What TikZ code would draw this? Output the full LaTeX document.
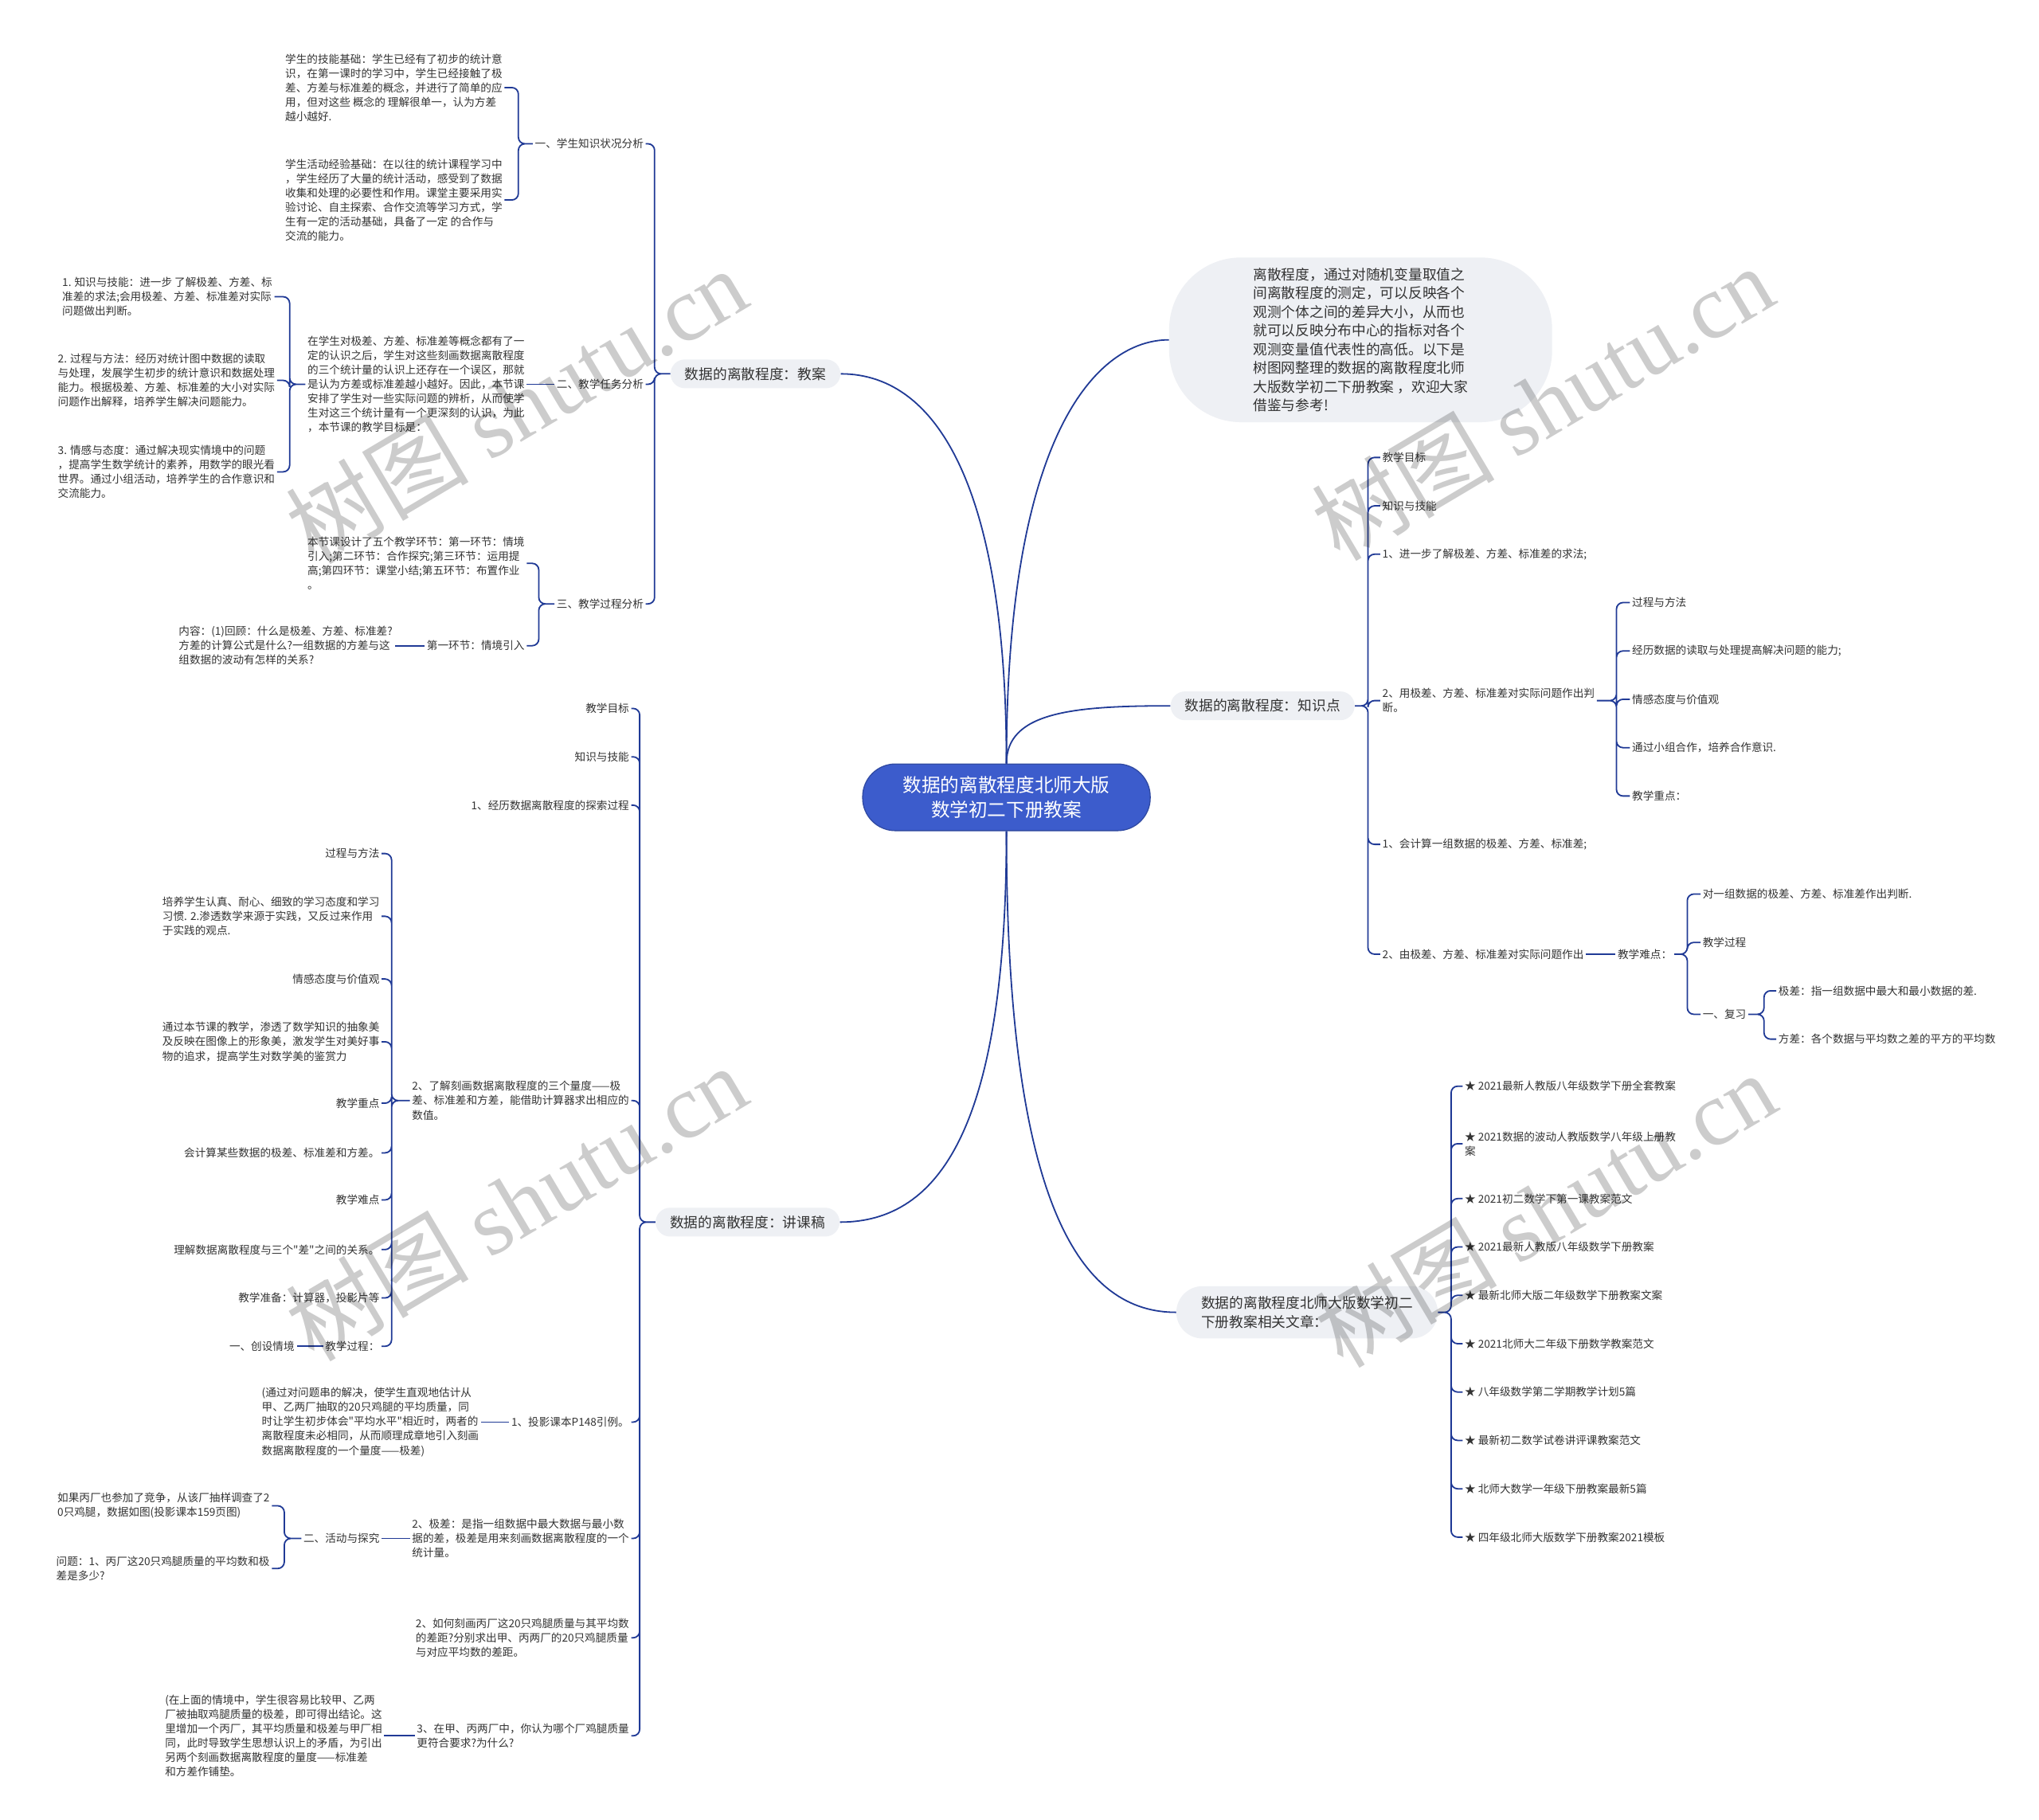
\documentclass[tikz,border=0pt]{standalone}
\usepackage{fontspec}
\setmainfont{Noto Sans CJK SC}
\newfontfamily\wmlatin{Liberation Serif}
\usetikzlibrary{positioning}

\definecolor{linkblue}{RGB}{32,58,150}
\definecolor{rootblue}{RGB}{60,92,204}
\definecolor{topicgray}{RGB}{238,240,244}
\definecolor{ink}{RGB}{51,51,51}

\begin{document}
\begin{tikzpicture}[x=1pt, y=-1pt,
		rootnode/.style={rectangle, rounded corners=25pt, fill=rootblue, draw=rootblue!80!black, line width=0.8pt,
			text=white, align=center, minimum width=220pt, minimum height=51pt, font=\fontsize{14.4}{19}\selectfont},
		topic/.style={rectangle, rounded corners=11pt, fill=topicgray, text=ink, minimum height=22pt,
			inner xsep=11pt, font=\fontsize{10.8}{14.3}\selectfont},
		bubble/.style={topic, rounded corners=55pt, minimum width=293pt, minimum height=126pt, align=left},
		leaf/.style={inner sep=1.5pt, text=ink, align=left, font=\fontsize{8.3}{11}\selectfont},
		lleaf/.style={leaf, anchor=east},
		rleaf/.style={leaf, anchor=west},
		link/.style={draw=linkblue, line width=1.1pt, rounded corners=5pt},
		wm/.style={text=black, text opacity=0.2, rotate=30.7, font=\fontsize{70}{70}\selectfont}
]
\useasboundingbox (0,0) rectangle (1560,1392.4);
\fill[white] (0,0) rectangle (1560,1392.4);

\node [rootnode] (root) at (770,610) {数据的离散程度北师大版\\数学初二下册教案};
\node [bubble] (E) at (1041,260) {离散程度，通过对随机变量取值之\\间离散程度的测定，可以反映各个\\观测个体之间的差异大小，从而也\\就可以反映分布中心的指标对各个\\观测变量值代表性的高低。以下是\\树图网整理的数据的离散程度北师\\大版数学初二下册教案 ，欢迎大家\\借鉴与参考!};
\node [topic] (A) at (578,286) {数据的离散程度：教案};
\node [topic] (B) at (572,935) {数据的离散程度：讲课稿};
\node [topic] (C) at (966,540) {数据的离散程度：知识点};
\node [topic, align=left, inner xsep=19pt, rounded corners=20pt, minimum height=40pt] (D) at (1000,1004) {数据的离散程度北师大版数学初二\\下册教案相关文章：};

\draw [link] (root.north) .. controls (770,380) and (720,286) .. (A.east);
\draw [link] (root.north) .. controls (770,330) and (840,260) .. (E.west);
\draw [link] (root.north) .. controls (770,545) and (820,540) .. (C.west);
\draw [link] (root.south) .. controls (770,860) and (720,935) .. (B.east);
\draw [link] (root.south) .. controls (770,930) and (830,1004) .. (D.west);

% 教案
\node [lleaf] (A1) at (494,110) {一、学生知识状况分析};
\node [lleaf] (A2) at (494,294) {二、教学任务分析};
\node [lleaf] (A3) at (494,462) {三、教学过程分析};
\node [lleaf] (A1a) at (386,67) {学生的技能基础：学生已经有了初步的统计意\\识，在第一课时的学习中，学生已经接触了极\\差、方差与标准差的概念，并进行了简单的应\\用，但对这些 概念的 理解很单一，认为方差\\越小越好.};
\node [lleaf] (A1b) at (386,153) {学生活动经验基础：在以往的统计课程学习中\\，学生经历了大量的统计活动，感受到了数据\\收集和处理的必要性和作用。课堂主要采用实\\验讨论、自主探索、合作交流等学习方式，学\\生有一定的活动基础，具备了一定 的合作与\\交流的能力。};
\node [lleaf] (A2a) at (403,294) {在学生对极差、方差、标准差等概念都有了一\\定的认识之后，学生对这些刻画数据离散程度\\的三个统计量的认识上还存在一个误区，那就\\是认为方差或标准差越小越好。因此，本节课\\安排了学生对一些实际问题的辨析，从而使学\\生对这三个统计量有一个更深刻的认识，为此\\，本节课的教学目标是：};
\node [lleaf] (A2a1) at (210,227) {1. 知识与技能：进一步 了解极差、方差、标\\准差的求法;会用极差、方差、标准差对实际\\问题做出判断。};
\node [lleaf] (A2a2) at (212,291) {2. 过程与方法：经历对统计图中数据的读取\\与处理，发展学生初步的统计意识和数据处理\\能力。根据极差、方差、标准差的大小对实际\\问题作出解释，培养学生解决问题能力。};
\node [lleaf] (A2a3) at (212,361) {3. 情感与态度：通过解决现实情境中的问题\\，提高学生数学统计的素养，用数学的眼光看\\世界。通过小组活动，培养学生的合作意识和\\交流能力。};
\node [lleaf] (A3a) at (403,431) {本节课设计了五个教学环节：第一环节：情境\\引入;第二环节：合作探究;第三环节：运用提\\高;第四环节：课堂小结;第五环节：布置作业\\。};
\node [lleaf] (A3b) at (403,494) {第一环节：情境引入};
\node [lleaf] (A3b1) at (302,494) {内容：(1)回顾：什么是极差、方差、标准差?\\方差的计算公式是什么?一组数据的方差与这\\组数据的波动有怎样的关系?};

\draw [link] (A.west) -- ++(-12,0) |- (A1.east) (A.west) -- ++(-12,0) |- (A2.east)
	(A.west) -- ++(-12,0) |- (A3.east);
\draw [link] (A1.west) -- ++(-11,0) |- (A1a.east) (A1.west) -- ++(-11,0) |- (A1b.east);
\draw [link] (A2.west) -- (A2a.east);
\draw [link] (A2a.west) -- ++(-12,0) |- (A2a1.east) (A2a.west) -- ++(-12,0) |- (A2a2.east)
	(A2a.west) -- ++(-12,0) |- (A2a3.east);
\draw [link] (A3.west) -- ++(-12,0) |- (A3a.east) (A3.west) -- ++(-12,0) |- (A3b.east);
\draw [link] (A3b.west) -- (A3b1.east);

% 讲课稿
\node [lleaf] (B1) at (483,542) {教学目标};
\node [lleaf] (B2) at (483,579) {知识与技能};
\node [lleaf] (B3) at (483,616) {1、经历数据离散程度的探索过程};
\node [lleaf] (B4) at (483,842) {2、了解刻画数据离散程度的三个量度——极\\差、标准差和方差，能借助计算器求出相应的\\数值。};
\node [lleaf] (B5) at (483,1088) {1、投影课本P148引例。};
\node [lleaf] (B6) at (483,1177) {2、极差：是指一组数据中最大数据与最小数\\据的差，极差是用来刻画数据离散程度的一个\\统计量。};
\node [lleaf] (B7) at (483,1253) {2、如何刻画丙厂这20只鸡腿质量与其平均数\\的差距?分别求出甲、丙两厂的20只鸡腿质量\\与对应平均数的差距。};
\node [lleaf] (B8) at (483,1328) {3、在甲、丙两厂中，你认为哪个厂鸡腿质量\\更符合要求?为什么?};
\node [lleaf] (B4a) at (292,653) {过程与方法};
\node [lleaf] (B4b) at (292,701) {培养学生认真、耐心、细致的学习态度和学习\\习惯. 2.渗透数学来源于实践，又反过来作用\\于实践的观点.};
\node [lleaf] (B4c) at (292,749) {情感态度与价值观};
\node [lleaf] (B4d) at (292,797) {通过本节课的教学，渗透了数学知识的抽象美\\及反映在图像上的形象美，激发学生对美好事\\物的追求，提高学生对数学美的鉴赏力};
\node [lleaf] (B4e) at (292,844) {教学重点};
\node [lleaf] (B4f) at (292,882) {会计算某些数据的极差、标准差和方差。};
\node [lleaf] (B4g) at (292,918) {教学难点};
\node [lleaf] (B4h) at (292,956) {理解数据离散程度与三个\textquotedbl 差\textquotedbl 之间的关系。};
\node [lleaf] (B4i) at (292,993) {教学准备：计算器，投影片等};
\node [lleaf] (B4j) at (292,1030) {教学过程：};
\node [lleaf] (B4j1) at (227,1030) {一、创设情境};
\node [lleaf] (B5a) at (368,1088) {(通过对问题串的解决，使学生直观地估计从\\甲、乙两厂抽取的20只鸡腿的平均质量，同\\时让学生初步体会\textquotedbl 平均水平\textquotedbl 相近时，两者的\\离散程度未必相同，从而顺理成章地引入刻画\\数据离散程度的一个量度——极差)};
\node [lleaf] (B6a) at (292,1177) {二、活动与探究};
\node [lleaf] (B6a1) at (208,1152) {如果丙厂也参加了竞争，从该厂抽样调查了2\\0只鸡腿，数据如图(投影课本159页图)};
\node [lleaf] (B6a2) at (208,1200) {问题：1、丙厂这20只鸡腿质量的平均数和极\\差是多少?};
\node [lleaf] (B8a) at (294,1328) {(在上面的情境中，学生很容易比较甲、乙两\\厂被抽取鸡腿质量的极差，即可得出结论。这\\里增加一个丙厂，其平均质量和极差与甲厂相\\同，此时导致学生思想认识上的矛盾，为引出\\另两个刻画数据离散程度的量度——标准差\\和方差作铺垫。};

\draw [link] (B.west) -- ++(-12,0) |- (B1.east) (B.west) -- ++(-12,0) |- (B2.east)
	(B.west) -- ++(-12,0) |- (B3.east) (B.west) -- ++(-12,0) |- (B4.east)
	(B.west) -- ++(-12,0) |- (B5.east) (B.west) -- ++(-12,0) |- (B6.east)
	(B.west) -- ++(-12,0) |- (B7.east) (B.west) -- ++(-12,0) |- (B8.east);
\draw [link] (B4.west) -- ++(-14,0) |- (B4a.east) (B4.west) -- ++(-14,0) |- (B4b.east)
	(B4.west) -- ++(-14,0) |- (B4c.east) (B4.west) -- ++(-14,0) |- (B4d.east)
	(B4.west) -- ++(-14,0) |- (B4e.east) (B4.west) -- ++(-14,0) |- (B4f.east)
	(B4.west) -- ++(-14,0) |- (B4g.east) (B4.west) -- ++(-14,0) |- (B4h.east)
	(B4.west) -- ++(-14,0) |- (B4i.east) (B4.west) -- ++(-14,0) |- (B4j.east);
\draw [link] (B4j.west) -- (B4j1.east);
\draw [link] (B5.west) -- (B5a.east);
\draw [link] (B6.west) -- (B6a.east);
\draw [link] (B6a.west) -- ++(-13,0) |- (B6a1.east) (B6a.west) -- ++(-13,0) |- (B6a2.east);
\draw [link] (B8.west) -- (B8a.east);

% 知识点
\node [rleaf] (C1) at (1056,350) {教学目标};
\node [rleaf] (C2) at (1056,387) {知识与技能};
\node [rleaf] (C3) at (1056,424) {1、进一步了解极差、方差、标准差的求法;};
\node [rleaf] (C4) at (1056,536) {2、用极差、方差、标准差对实际问题作出判\\断。};
\node [rleaf] (C5) at (1056,646) {1、会计算一组数据的极差、方差、标准差;};
\node [rleaf] (C6) at (1056,730) {2、由极差、方差、标准差对实际问题作出};
\node [rleaf] (C4a) at (1247,461) {过程与方法};
\node [rleaf] (C4b) at (1247,498) {经历数据的读取与处理提高解决问题的能力;};
\node [rleaf] (C4c) at (1247,535) {情感态度与价值观};
\node [rleaf] (C4d) at (1247,572) {通过小组合作，培养合作意识.};
\node [rleaf] (C4e) at (1247,609) {教学重点：};
\node [rleaf] (C6a) at (1236,730) {教学难点：};
\node [rleaf] (C6a1) at (1301,684) {对一组数据的极差、方差、标准差作出判断.};
\node [rleaf] (C6a2) at (1301,721) {教学过程};
\node [rleaf] (C6a3) at (1301,776) {一、复习};
\node [rleaf] (C6b1) at (1359,758) {极差：指一组数据中最大和最小数据的差.};
\node [rleaf] (C6b2) at (1359,795) {方差：各个数据与平均数之差的平方的平均数};

\draw [link] (C.east) -- ++(10,0) |- (C1.west) (C.east) -- ++(10,0) |- (C2.west)
	(C.east) -- ++(10,0) |- (C3.west) (C.east) -- ++(10,0) |- (C4.west)
	(C.east) -- ++(10,0) |- (C5.west) (C.east) -- ++(10,0) |- (C6.west);
\draw [link] (C4.east) -- ++(15,0) |- (C4a.west) (C4.east) -- ++(15,0) |- (C4b.west)
	(C4.east) -- ++(15,0) |- (C4c.west) (C4.east) -- ++(15,0) |- (C4d.west)
	(C4.east) -- ++(15,0) |- (C4e.west);
\draw [link] (C6.east) -- (C6a.west);
\draw [link] (C6a.east) -- ++(10,0) |- (C6a1.west) (C6a.east) -- ++(10,0) |- (C6a2.west)
	(C6a.east) -- ++(10,0) |- (C6a3.west);
\draw [link] (C6a3.east) -- ++(12,0) |- (C6b1.west) (C6a3.east) -- ++(12,0) |- (C6b2.west);

% 相关文章
\node [rleaf] (D1) at (1119,831) {★ 2021最新人教版八年级数学下册全套教案};
\node [rleaf] (D2) at (1119,875) {★ 2021数据的波动人教版数学八年级上册教\\案};
\node [rleaf] (D3) at (1119,917) {★ 2021初二数学下第一课教案范文};
\node [rleaf] (D4) at (1119,954) {★ 2021最新人教版八年级数学下册教案};
\node [rleaf] (D5) at (1119,991) {★ 最新北师大版二年级数学下册教案文案};
\node [rleaf] (D6) at (1119,1028) {★ 2021北师大二年级下册数学教案范文};
\node [rleaf] (D7) at (1119,1065) {★ 八年级数学第二学期教学计划5篇};
\node [rleaf] (D8) at (1119,1102) {★ 最新初二数学试卷讲评课教案范文};
\node [rleaf] (D9) at (1119,1139) {★ 北师大数学一年级下册教案最新5篇};
\node [rleaf] (D10) at (1119,1176) {★ 四年级北师大版数学下册教案2021模板};

\draw [link] (D.east) -- ++(10,0) |- (D1.west) (D.east) -- ++(10,0) |- (D2.west)
	(D.east) -- ++(10,0) |- (D3.west) (D.east) -- ++(10,0) |- (D4.west)
	(D.east) -- ++(10,0) |- (D5.west) (D.east) -- ++(10,0) |- (D6.west)
	(D.east) -- ++(10,0) |- (D7.west) (D.east) -- ++(10,0) |- (D8.west)
	(D.east) -- ++(10,0) |- (D9.west) (D.east) -- ++(10,0) |- (D10.west);

% watermarks
\node [wm] (wm1) at (395,310) {树图 {\wmlatin shutu.cn}};
\node [wm] (wm2) at (1180,308) {树图 {\wmlatin shutu.cn}};
\node [wm] (wm3) at (395,920) {树图 {\wmlatin shutu.cn}};
\node [wm] (wm4) at (1182,925) {树图 {\wmlatin shutu.cn}};

\end{tikzpicture}
\end{document}
